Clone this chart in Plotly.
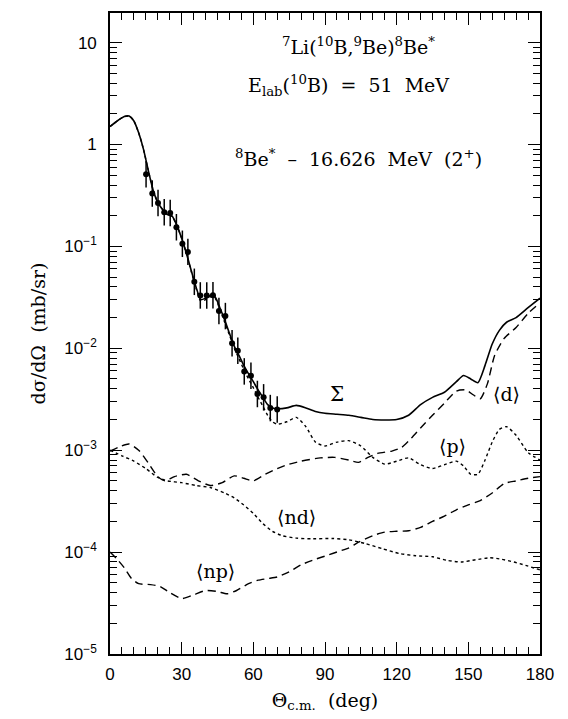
import plotly.graph_objects as go

# Measured angular distribution, 8Be* 16.626 MeV (2+)
theta_exp = [15.1, 17.7, 20.1, 22.7, 25.2, 27.8, 30.3, 32.6, 35.3, 37.8, 40.5,
             43.1, 45.6, 48.3, 51.1, 53.5, 56.2, 59.0, 61.7, 64.3, 67.1, 70.0]
xs_exp = [0.51, 0.33, 0.267, 0.216, 0.213, 0.154, 0.106, 0.0883, 0.0449, 0.033,
          0.033, 0.0332, 0.0232, 0.0207, 0.0112, 0.00944, 0.00593, 0.00537,
          0.00356, 0.0033, 0.00259, 0.00251]
# error bars, half-width in decades
err_dec = [0.13] * len(xs_exp)

# Total calculated cross section (Sigma) and <p> contribution on a common grid
theta_tot = [0, 3, 6, 8, 10, 12, 14, 16, 18, 20, 22, 24, 26, 28, 30, 32, 34, 36,
             38, 40, 42, 44, 46, 48, 50, 52, 54, 56, 58, 60, 62, 64, 66, 68, 70,
             74, 78, 82, 86, 90, 95, 100, 105, 110, 115, 120, 125, 130, 135, 140,
             145, 148, 151, 154, 157, 160, 163, 166, 170, 175, 180]
xs_sigma = [1.5, 1.7, 1.88, 1.9, 1.7, 1.3, 0.9, 0.56, 0.36, 0.27, 0.23, 0.205,
            0.198, 0.16, 0.12, 0.085, 0.058, 0.04, 0.030, 0.031, 0.033, 0.032,
            0.025, 0.019, 0.014, 0.0105, 0.0085, 0.0068, 0.0056, 0.0047, 0.0039,
            0.0033, 0.0028, 0.0026, 0.00255, 0.0026, 0.00275, 0.0026, 0.0024,
            0.0023, 0.00225, 0.0022, 0.0021, 0.0020, 0.00198, 0.0020, 0.0022,
            0.0028, 0.0033, 0.0037, 0.0047, 0.0054, 0.0050, 0.0046, 0.0068,
            0.011, 0.015, 0.018, 0.020, 0.025, 0.031]
xs_p = [1.5, 1.7, 1.88, 1.9, 1.7, 1.3, 0.9, 0.56, 0.36, 0.27, 0.23, 0.205,
        0.197, 0.16, 0.12, 0.085, 0.057, 0.039, 0.029, 0.030, 0.032, 0.031,
        0.024, 0.018, 0.0135, 0.0100, 0.0079, 0.0062, 0.0050, 0.0041, 0.0033,
        0.0027, 0.0022, 0.0019, 0.0018, 0.0019, 0.0021, 0.0017, 0.0012, 0.0011,
        0.0012, 0.00124, 0.0011, 0.00085, 0.00073, 0.00078, 0.00084, 0.00072,
        0.00066, 0.00072, 0.00078, 0.0007, 0.00058, 0.00058, 0.0008, 0.0012,
        0.0016, 0.0017, 0.0014, 0.00095, 0.0008]

# <d> contribution
theta_d = [0, 4, 8, 12, 16, 20, 23, 27, 32, 37, 42, 47, 52, 56, 60, 65, 70, 75,
           80, 88, 94, 100, 104, 108, 112, 118, 122, 126, 130, 135, 140, 145,
           149, 152, 155, 158, 161, 165, 170, 175, 180]
xs_d = [0.00098, 0.00108, 0.00115, 0.001, 0.00075, 0.00055, 0.0005, 0.00055,
        0.00058, 0.0005, 0.00045, 0.00048, 0.00056, 0.00053, 0.0005, 0.00058,
        0.00066, 0.00073, 0.00078, 0.00084, 0.00085, 0.0008, 0.00076, 0.00085,
        0.00093, 0.00098, 0.00106, 0.0013, 0.00165, 0.0022, 0.0029, 0.0038,
        0.0039, 0.0035, 0.0032, 0.0045, 0.0085, 0.0125, 0.016, 0.022, 0.028]

# <nd> contribution
theta_nd = [0, 5, 10, 15, 20, 24, 30, 36, 42, 48, 52, 56, 60, 64, 68, 72, 78, 85,
            93, 100, 107, 114, 121, 128, 135, 141, 147, 153, 159, 164, 169, 174,
            180]
xs_nd = [0.001, 0.00088, 0.00078, 0.00066, 0.00054, 0.0005, 0.00048, 0.00045,
         0.00043, 0.00038, 0.00034, 0.00029, 0.00024, 0.00019, 0.00016,
         0.000145, 0.000137, 0.000135, 0.000136, 0.000132, 0.000121, 0.000108,
         0.000097, 0.000092, 0.00009, 0.000083, 0.00008, 0.000084, 0.000088,
         0.000085, 0.00008, 0.000074, 0.000067]

# <np> contribution
theta_np = [0, 3, 6, 9, 12, 17, 21, 25, 30, 35, 40, 45, 49, 53, 58, 62, 66, 70,
            75, 80, 86, 91, 96, 100, 104, 110, 115, 120, 125, 130, 135, 140,
            145, 150, 155, 160, 165, 170, 175, 180]
xs_np = [0.0001, 0.000085, 0.00007, 0.000055, 0.000049, 0.000048, 0.000046,
         0.00004, 0.000035, 0.000038, 0.000042, 0.000041, 0.000039, 0.000042,
         0.000049, 0.000053, 0.000055, 0.000057, 0.000064, 0.000075, 0.000085,
         0.000093, 0.000102, 0.00011, 0.000125, 0.000145, 0.000157, 0.00016,
         0.000162, 0.000175, 0.0002, 0.000225, 0.00026, 0.00029, 0.00032,
         0.00038, 0.00047, 0.0005, 0.00053, 0.00055]

x_ticks = [0, 30, 60, 90, 120, 150, 180]
y_ticks = [1e-5, 1e-4, 1e-3, 1e-2, 1e-1, 1, 10]
y_ticktext = ["10<sup>\u22125</sup>", "10<sup>\u22124</sup>", "10<sup>\u22123</sup>",
              "10<sup>\u22122</sup>", "10<sup>\u22121</sup>", "1", "10"]
y_minor = [m * 10.0 ** k for k in range(-5, 2) for m in range(2, 10)]

SERIF = "DejaVu Serif"
SANS = "Liberation Sans"

fig = go.Figure()

line_style = dict(color="black", width=1.4, shape="spline", smoothing=0.6)
fig.add_trace(go.Scatter(x=theta_np, y=xs_np, mode="lines",
                         line=dict(line_style, dash="8px,5px")))
fig.add_trace(go.Scatter(x=theta_nd, y=xs_nd, mode="lines",
                         line=dict(line_style, dash="3px,3px")))
fig.add_trace(go.Scatter(x=theta_d, y=xs_d, mode="lines",
                         line=dict(line_style, dash="8px,5px")))
fig.add_trace(go.Scatter(x=theta_tot, y=xs_p, mode="lines",
                         line=dict(line_style, dash="3px,3px")))
fig.add_trace(go.Scatter(x=theta_tot, y=xs_sigma, mode="lines",
                         line=dict(line_style, width=1.6)))

err_up = [v * (10 ** e - 1) for v, e in zip(xs_exp, err_dec)]
err_dn = [v * (1 - 10 ** -e) for v, e in zip(xs_exp, err_dec)]
fig.add_trace(go.Scatter(
    x=theta_exp, y=xs_exp, mode="markers",
    marker=dict(color="black", size=6),
    error_y=dict(type="data", symmetric=False, array=err_up, arrayminus=err_dn,
                 color="black", thickness=1.5, width=0),
))

def note(text, x, y, size=19):
    fig.add_annotation(text=text, x=x, y=y, xref="x", yref="y",
                       showarrow=False, font=dict(family=SERIF, size=size,
                                                  color="black"))

nb = "\u00a0"
note(f"<sup>7</sup>Li(<sup>10</sup>B,<sup>9</sup>Be)<sup>8</sup>Be<sup>*</sup>", 104, 0.97)
note(f"E<sub>lab</sub>(<sup>10</sup>B){nb}{nb}={nb}{nb}51{nb}{nb}MeV", 100, 0.58)
note(f"<sup>8</sup>Be<sup>*</sup>{nb}{nb}\u2013{nb}{nb}16.626{nb}{nb}MeV{nb}{nb}(2<sup>+</sup>)", 104, -0.13)
note("\u03a3", 95, -2.45, size=20)
note("\u27e8d\u27e9", 166, -2.45)
note("\u27e8p\u27e9", 143.5, -2.96)
note("\u27e8nd\u27e9", 78, -3.66)
note("\u27e8np\u27e9", 44, -4.19)

fig.update_layout(
    width=568, height=719,
    margin=dict(l=110, r=28, t=11, b=65),
    paper_bgcolor="white", plot_bgcolor="white",
    showlegend=False,
    xaxis=dict(
        range=[0, 180], tickmode="array", tickvals=x_ticks,
        ticks="inside", ticklen=12, tickwidth=1.3, tickcolor="black",
        minor=dict(dtick=5, tick0=0, ticks="inside", ticklen=7, tickwidth=1.2,
                   tickcolor="black", showgrid=False),
        showline=True, linewidth=1.6, linecolor="black", mirror="ticks",
        showgrid=False, zeroline=False,
        tickfont=dict(family=SANS, size=17, color="black"),
        ticklabelstandoff=4,
        title=dict(text="\u0398<sub>c.m.</sub>\u00a0\u00a0(deg)",
                   font=dict(family=SERIF, size=19, color="black"), standoff=10),
    ),
    yaxis=dict(
        type="log", range=[-5, 1.29], tickmode="array", tickvals=y_ticks,
        ticktext=y_ticktext,
        ticks="inside", ticklen=12, tickwidth=1.3, tickcolor="black",
        minor=dict(tickmode="array", tickvals=y_minor, ticks="inside", ticklen=7,
                   tickwidth=1.2, tickcolor="black", showgrid=False),
        showline=True, linewidth=1.6, linecolor="black", mirror="ticks",
        showgrid=False, zeroline=False,
        tickfont=dict(family=SANS, size=17, color="black"),
        ticklabelstandoff=8,
        title=dict(text="d\u03c3/d\u03a9\u00a0\u00a0(mb/sr)",
                   font=dict(family=SERIF, size=19, color="black"), standoff=14),
    ),
)

fig.write_html("out.html")
